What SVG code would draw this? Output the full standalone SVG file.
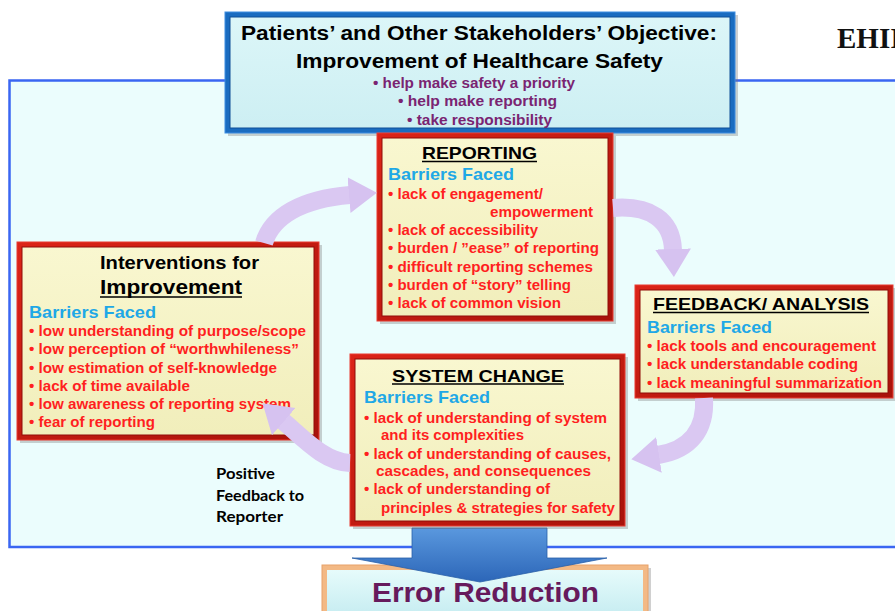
<svg xmlns="http://www.w3.org/2000/svg" width="895" height="611" viewBox="0 0 895 611">
<defs>
<style>
.t{font-family:"Liberation Sans",Arial,sans-serif;font-weight:bold}
.red{fill:#ff1f1f;font-size:15px}
.bf{fill:#1fa8e6;font-size:16.5px}
.hd{fill:#000;font-size:17px}
.pu{fill:#7a2472;font-size:14px}
.ul{stroke:#000;stroke-width:1.6}
.arr{fill:none;stroke:#dac8f2;stroke-width:18}
.hl{fill:none;stroke:#f1e9fb;stroke-width:5}
.shadow{fill:#777;opacity:.35}
.rframe{fill:url(#redFrame);stroke:#ea3a30;stroke-width:1}
.yin{fill:url(#yel);stroke:#900d08;stroke-width:1}
</style>
<linearGradient id="redFrame" x1="0" y1="0" x2="1" y2="1">
<stop offset="0" stop-color="#dc2418"/><stop offset="1" stop-color="#a8120a"/>
</linearGradient>
<linearGradient id="yel" x1="0" y1="0" x2="0" y2="1">
<stop offset="0" stop-color="#f9f7d0"/><stop offset="1" stop-color="#f1eebb"/>
</linearGradient>
<linearGradient id="cyan" x1="0" y1="0" x2="0" y2="1">
<stop offset="0" stop-color="#dcf6f8"/><stop offset="1" stop-color="#cdeff3"/>
</linearGradient>
<linearGradient id="errIn" x1="0" y1="0" x2="0" y2="1">
<stop offset="0" stop-color="#e6fbfb"/><stop offset="1" stop-color="#c3ebf0"/>
</linearGradient>
<linearGradient id="blueArr" x1="0" y1="0" x2="0" y2="1">
<stop offset="0" stop-color="#5a98de"/><stop offset="1" stop-color="#2c66b8"/>
</linearGradient>
<marker id="ah" markerUnits="userSpaceOnUse" markerWidth="30" markerHeight="40" viewBox="0 0 30 40" refX="1" refY="19" orient="auto">
<path d="M0,1 L28,19 L0,37 z" fill="#d6c2f0"/>
</marker>
</defs>

<rect width="895" height="611" fill="#ffffff"/>

<g id="frame">
<rect x="9.5" y="80.5" width="900" height="466.5" fill="#ebfdfd" stroke="#3a66f2" stroke-width="2.5"/>
</g>

<g id="ehii">
<text x="837" y="48" font-family="Liberation Serif,'Times New Roman',serif" font-weight="bold" font-size="29" fill="#111">EHII</text>
</g>

<g id="objective">
<rect x="228" y="15" width="510" height="121" class="shadow"/>
<rect x="225" y="12" width="510" height="121" fill="#1a6cc0" stroke="#3c8de2" stroke-width="1"/>
<rect x="230" y="17" width="500" height="111" fill="url(#cyan)" stroke="#0f4f96" stroke-width="1"/>
<text class="t" x="241" y="40" font-size="19.5" fill="#000" textLength="476" lengthAdjust="spacingAndGlyphs">Patients’ and Other Stakeholders’ Objective:</text>
<text class="t" x="296" y="68" font-size="19.5" fill="#000" textLength="367" lengthAdjust="spacingAndGlyphs">Improvement of Healthcare Safety</text>
<text class="t pu" x="373" y="88" textLength="202" lengthAdjust="spacingAndGlyphs">•  help make safety a priority</text>
<text class="t pu" x="398" y="106" textLength="159" lengthAdjust="spacingAndGlyphs">•  help make reporting</text>
<text class="t pu" x="407" y="125" textLength="145" lengthAdjust="spacingAndGlyphs">•  take responsibility</text>
</g>

<g id="error-arrow">
<rect x="325" y="568" width="326" height="60" class="shadow"/>
<rect x="322" y="565" width="326" height="60" fill="#f3b985" stroke="#e8a26a" stroke-width="1"/>
<rect x="327" y="570" width="316" height="50" fill="url(#errIn)"/>
<polygon points="412,528 547,528 547,558 607,558 480,582 352,558 412,558" fill="url(#blueArr)" stroke="#2a5fa8" stroke-width="0.8"/>
</g>

<g id="error-reduction">
<text class="t" x="372" y="601.5" font-size="28" fill="#661a5c" textLength="227" lengthAdjust="spacingAndGlyphs">Error Reduction</text>
</g>

<g id="reporting">
<rect x="380" y="136" width="236" height="188" class="shadow"/>
<rect x="377" y="133" width="236" height="188" class="rframe"/>
<rect x="382" y="138" width="226" height="178" class="yin"/>
<text class="t hd" x="422" y="159" textLength="115" lengthAdjust="spacingAndGlyphs">REPORTING</text>
<line class="ul" x1="422" y1="161.5" x2="537" y2="161.5"/>
<text class="t bf" x="388" y="180" textLength="126" lengthAdjust="spacingAndGlyphs">Barriers Faced</text>
<text class="t red" x="388" y="198.5" textLength="155" lengthAdjust="spacingAndGlyphs">• lack of engagement/</text>
<text class="t red" x="490" y="216.5" textLength="103" lengthAdjust="spacingAndGlyphs">empowerment</text>
<text class="t red" x="388" y="235" textLength="150" lengthAdjust="spacingAndGlyphs">• lack of accessibility</text>
<text class="t red" x="388" y="253" textLength="211" lengthAdjust="spacingAndGlyphs">• burden / ”ease” of reporting</text>
<text class="t red" x="388" y="271.5" textLength="205" lengthAdjust="spacingAndGlyphs">• difficult  reporting schemes</text>
<text class="t red" x="388" y="290" textLength="183" lengthAdjust="spacingAndGlyphs">• burden of “story” telling</text>
<text class="t red" x="388" y="308" textLength="173" lengthAdjust="spacingAndGlyphs">• lack of common vision</text>
</g>

<g id="interventions">
<rect x="20" y="245" width="302" height="198" class="shadow"/>
<rect x="17" y="242" width="302" height="198" class="rframe"/>
<rect x="22" y="247" width="292" height="188" class="yin"/>
<text class="t" x="100" y="269" font-size="17.5" fill="#000" textLength="159" lengthAdjust="spacingAndGlyphs">Interventions for</text>
<text class="t" x="100" y="294" font-size="20.5" fill="#000" textLength="142" lengthAdjust="spacingAndGlyphs">Improvement</text>
<line class="ul" x1="100" y1="297" x2="242" y2="297"/>
<text class="t bf" x="29" y="317.5" textLength="127" lengthAdjust="spacingAndGlyphs">Barriers Faced</text>
<text class="t red" x="29" y="336" textLength="277" lengthAdjust="spacingAndGlyphs">• low understanding of purpose/scope</text>
<text class="t red" x="29" y="354" textLength="270" lengthAdjust="spacingAndGlyphs">• low perception of “worthwhileness”</text>
<text class="t red" x="29" y="372.5" textLength="248" lengthAdjust="spacingAndGlyphs">• low estimation of self-knowledge</text>
<text class="t red" x="29" y="390.5" textLength="161" lengthAdjust="spacingAndGlyphs">• lack of time available</text>
<text class="t red" x="29" y="409" textLength="262" lengthAdjust="spacingAndGlyphs">• low awareness of reporting system</text>
<text class="t red" x="29" y="427" textLength="126" lengthAdjust="spacingAndGlyphs">• fear of reporting</text>
</g>

<g id="feedback-analysis">
<rect x="638" y="288" width="258" height="113" class="shadow"/>
<rect x="635" y="285" width="258" height="113" class="rframe"/>
<rect x="640" y="290" width="248" height="103" class="yin"/>
<text class="t hd" x="653" y="310" textLength="216" lengthAdjust="spacingAndGlyphs">FEEDBACK/ ANALYSIS</text>
<line class="ul" x1="653" y1="312.5" x2="869" y2="312.5"/>
<text class="t bf" x="647" y="332.5" textLength="125" lengthAdjust="spacingAndGlyphs">Barriers Faced</text>
<text class="t red" x="647" y="350.5" textLength="229" lengthAdjust="spacingAndGlyphs">• lack tools and encouragement</text>
<text class="t red" x="647" y="369" textLength="211" lengthAdjust="spacingAndGlyphs">• lack understandable coding</text>
<text class="t red" x="647" y="387.5" textLength="235" lengthAdjust="spacingAndGlyphs">• lack meaningful summarization</text>
</g>

<g id="system-change">
<rect x="353" y="357" width="275" height="172" class="shadow"/>
<rect x="350" y="354" width="275" height="172" class="rframe"/>
<rect x="355" y="359" width="265" height="162" class="yin"/>
<text class="t hd" x="392" y="381.5" textLength="172" lengthAdjust="spacingAndGlyphs">SYSTEM  CHANGE</text>
<line class="ul" x1="392" y1="384" x2="564" y2="384"/>
<text class="t bf" x="364" y="403" textLength="126" lengthAdjust="spacingAndGlyphs">Barriers Faced</text>
<text class="t red" x="364" y="422.5" textLength="243" lengthAdjust="spacingAndGlyphs">• lack of understanding of system</text>
<text class="t red" x="381" y="440" textLength="143" lengthAdjust="spacingAndGlyphs">and its complexities</text>
<text class="t red" x="364" y="458.5" textLength="247" lengthAdjust="spacingAndGlyphs">• lack of understanding of causes,</text>
<text class="t red" x="376" y="476" textLength="215" lengthAdjust="spacingAndGlyphs">cascades, and consequences</text>
<text class="t red" x="364" y="494" textLength="186" lengthAdjust="spacingAndGlyphs">• lack of understanding of</text>
<text class="t red" x="381" y="512.5" textLength="234" lengthAdjust="spacingAndGlyphs">principles &amp; strategies for safety</text>
</g>

<g id="positive-feedback">
<text x="216" y="479" font-family="Lato,'Open Sans',sans-serif" font-weight="bold" font-size="14.5" fill="#000" textLength="59" lengthAdjust="spacingAndGlyphs">Positive</text>
<text x="216" y="500.5" font-family="Lato,'Open Sans',sans-serif" font-weight="bold" font-size="14.5" fill="#000" textLength="88" lengthAdjust="spacingAndGlyphs">Feedback to</text>
<text x="216" y="521.5" font-family="Lato,'Open Sans',sans-serif" font-weight="bold" font-size="14.5" fill="#000" textLength="67" lengthAdjust="spacingAndGlyphs">Reporter</text>
</g>

<g id="connectors">
<path class="arr" d="M 264 243 C 272 216, 302 199, 350 195" marker-end="url(#ah)"/>
<path class="arr" d="M 613 208 C 650 205, 672 220, 673 250" marker-end="url(#ah)"/>
<path class="arr" d="M 704 398 C 706 430, 690 450, 658 455" marker-end="url(#ah)"/>
<path class="arr" d="M 350 463 C 325 462, 305 440, 283 421" marker-end="url(#ah)"/>
</g>
</svg>
